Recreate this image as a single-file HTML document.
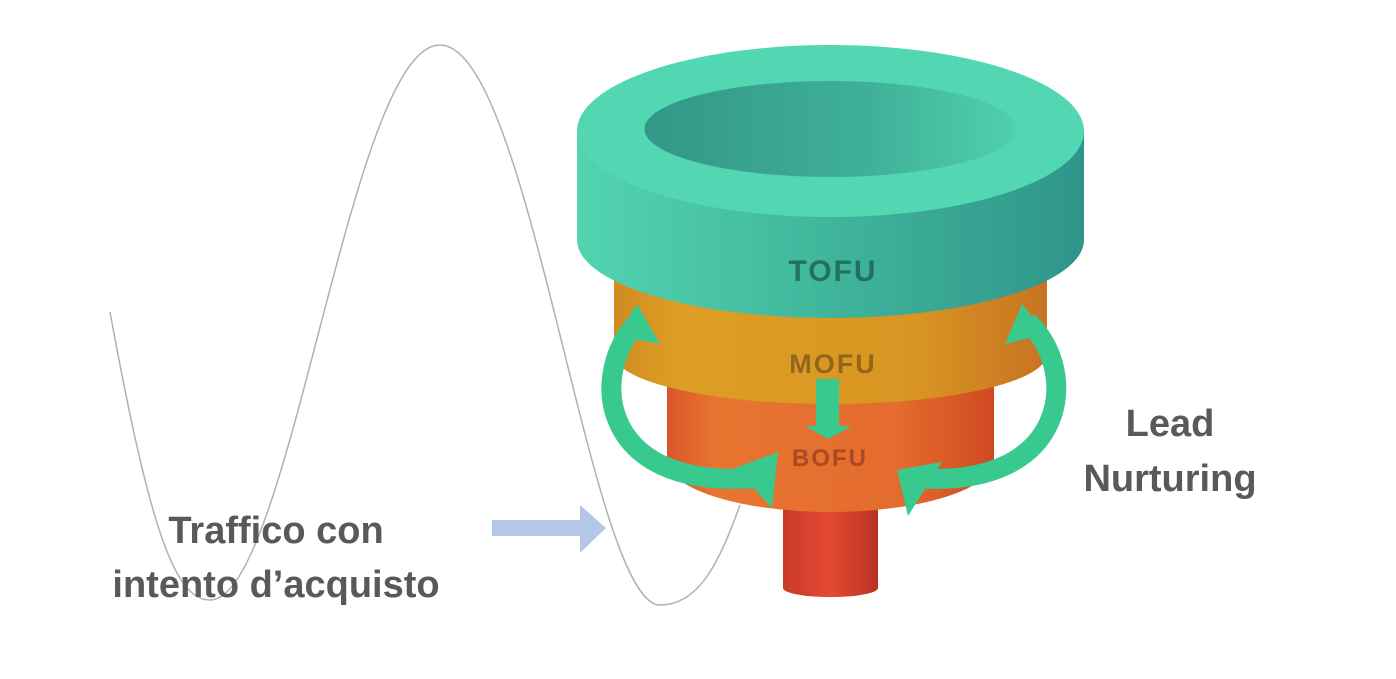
<!DOCTYPE html>
<html><head><meta charset="utf-8"><style>
body{margin:0;background:#fff;width:1396px;height:674px;overflow:hidden}
</style></head><body>
<svg width="1396" height="674" xmlns="http://www.w3.org/2000/svg">
<defs>
<linearGradient id="gt" x1="0" x2="1"><stop offset="0" stop-color="#52d4b0"/><stop offset="0.5" stop-color="#40b59b"/><stop offset="1" stop-color="#2f958a"/></linearGradient>
<linearGradient id="gi" x1="0" x2="1"><stop offset="0" stop-color="#329787"/><stop offset="0.6" stop-color="#3fb098"/><stop offset="1" stop-color="#50d0b0"/></linearGradient>
<linearGradient id="gm" x1="0" x2="1"><stop offset="0" stop-color="#d28a22"/><stop offset="0.15" stop-color="#dc9f24"/><stop offset="0.7" stop-color="#d89522"/><stop offset="1" stop-color="#c87222"/></linearGradient>
<linearGradient id="gb" x1="0" x2="1"><stop offset="0" stop-color="#d9562a"/><stop offset="0.15" stop-color="#e87530"/><stop offset="0.7" stop-color="#e46c2e"/><stop offset="1" stop-color="#d04a22"/></linearGradient>
<linearGradient id="gs" x1="0" x2="1"><stop offset="0" stop-color="#c83a28"/><stop offset="0.5" stop-color="#e34a32"/><stop offset="1" stop-color="#b83226"/></linearGradient>
</defs>
<path d="M110,312 C150,530 175,600 210,600 C290,600 350,45 440,45 C530,45 590,605 660,605 C700,605 720,560 740,505" fill="none" stroke="#b0b0b0" stroke-width="1.5"/>
<path d="M783,480 L783,588 A47,9 0 0 0 878,588 L878,480 Z" fill="url(#gs)"/>
<path d="M667,380 L667,460 A163.5,52 0 0 0 994,460 L994,380 Z" fill="url(#gb)"/>
<path d="M614,260 L614,354 A216.5,50 0 0 0 1047,354 L1047,260 Z" fill="url(#gm)"/>
<path d="M577,131 L577,240 A253.5,78 0 0 0 1084,240 L1084,131 Z" fill="url(#gt)"/>
<ellipse cx="830.5" cy="131" rx="253.5" ry="86" fill="#53d7b2"/>
<ellipse cx="830.5" cy="129" rx="186" ry="48" fill="url(#gi)"/>
<g font-family="Liberation Sans, sans-serif" font-weight="bold" text-anchor="middle">
<text x="833" y="281" font-size="30" fill="#23705f" letter-spacing="2">TOFU</text>
<text x="833" y="373" font-size="27" fill="#94651c" letter-spacing="2">MOFU</text>
<text x="830" y="466" font-size="24" fill="#a84a22" letter-spacing="2">BOFU</text>
</g>
<g fill="#38c98f" stroke="none">
<path d="M638,322 C590,370 595,490 755,478" fill="none" stroke="#38c98f" stroke-width="20"/>
<polygon points="637,304 660,344 617,336"/>
<polygon points="778,452 772,508 735,468"/>
<path d="M1028,322 C1080,370 1070,490 915,478" fill="none" stroke="#38c98f" stroke-width="20"/>
<polygon points="1022,304 1046,334 1005,344"/>
<polygon points="897,470 908,516 942,462"/>
<rect x="816" y="379" width="23" height="47"/>
<polygon points="805,426 852,426 828,439"/>
</g>
<rect x="492" y="520" width="90" height="16" fill="#b4c7e7"/>
<polygon points="580,505 606,528 580,553" fill="#b4c7e7"/>
<g font-family="Liberation Sans, sans-serif" font-weight="bold" fill="#595959" font-size="38" text-anchor="middle">
<text x="276" y="543">Traffico con</text>
<text x="276" y="597">intento d’acquisto</text>
<text x="1170" y="436">Lead</text>
<text x="1170" y="491">Nurturing</text>
</g>
</svg>
</body></html>
